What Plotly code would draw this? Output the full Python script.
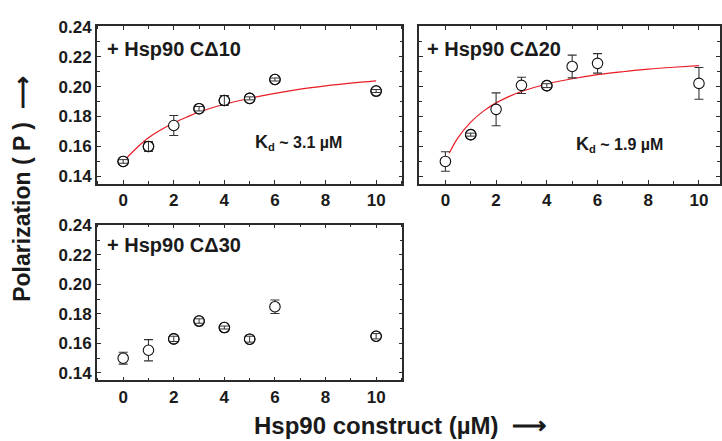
import plotly.graph_objects as go

W, H = 722, 441

# ---- data ----
conc = [0, 1, 2, 3, 4, 5, 6, 10]

p_cd10 = [0.150, 0.160, 0.174, 0.1852, 0.1907, 0.1921, 0.2047, 0.1970]
e_cd10 = [0.0012, 0.0032, 0.0067, 0.0015, 0.0032, 0.0010, 0.0010, 0.0010]

p_cd20 = [0.150, 0.1679, 0.1848, 0.2008, 0.2006, 0.2134, 0.2155, 0.2021]
e_cd20 = [0.0065, 0.0010, 0.0110, 0.0054, 0.0013, 0.0076, 0.0065, 0.0106]

p_cd30 = [0.150, 0.1554, 0.1631, 0.1752, 0.1708, 0.1629, 0.1849, 0.1649]
e_cd30 = [0.0040, 0.0072, 0.0018, 0.0015, 0.0010, 0.0020, 0.0046, 0.0018]

# fitted binding curves
fit10_x = [0.1, 0.5, 1, 1.5, 2, 2.5, 3, 4, 5, 6, 7, 8, 9, 10]
fit10_y = [0.1516, 0.1585, 0.1658, 0.1712, 0.1758, 0.1795, 0.1830, 0.1882,
           0.1922, 0.1955, 0.1983, 0.2005, 0.2023, 0.2038]
fit20_x = [0.15, 0.5, 1, 1.5, 2, 2.5, 3, 4, 5, 6, 7, 8, 9, 10]
fit20_y = [0.1555, 0.1659, 0.1763, 0.1836, 0.1891, 0.1933, 0.1967, 0.2017,
           0.2052, 0.2079, 0.2099, 0.2116, 0.2129, 0.2140]

labels = ["+ Hsp90 C\u039410", "+ Hsp90 C\u039420", "+ Hsp90 C\u039430"]
kd_labels = ["<span style='font-size:18px'>K</span><sub>d</sub> ~ 3.1 \u00b5M",
             "<span style='font-size:18px'>K</span><sub>d</sub> ~ 1.9 \u00b5M"]
x_ticks = [0, 2, 4, 6, 8, 10]
y_ticks = [0.14, 0.16, 0.18, 0.20, 0.22, 0.24]

FONT = "Liberation Sans, Arial, sans-serif"
AX = "#2b2b2b"
EB = "#333333"
RED = "rgb(232,28,36)"


def px(x):
    return x / W


def py(y):
    return 1 - y / H


fig = go.Figure()

panels = [
    ("x", "y", p_cd10, e_cd10),
    ("x2", "y2", p_cd20, e_cd20),
    ("x3", "y3", p_cd30, e_cd30),
]

fits = {0: (fit10_x, fit10_y), 1: (fit20_x, fit20_y)}

for i, (xa, ya, pv, ev) in enumerate(panels):
    if i in fits:
        fx, fy = fits[i]
        fig.add_trace(go.Scatter(x=fx, y=fy, mode="lines", line=dict(color=RED, width=1.2, shape="spline"),
                                 xaxis=xa, yaxis=ya, hoverinfo="skip", showlegend=False))
    fig.add_trace(go.Scatter(
        x=conc, y=pv, mode="markers", xaxis=xa, yaxis=ya, showlegend=False,
        marker=dict(symbol="circle", size=10.5, color="white", line=dict(color="#111", width=1.1)),
        error_y=dict(type="data", array=ev, visible=True, color=EB, thickness=1.1, width=4.5),
    ))
    # small error bars appear drawn over the marker (crosshair look)
    sx = [c for c, e in zip(conc, ev) if e < 0.0035]
    sy = [p for p, e in zip(pv, ev) if e < 0.0035]
    se = [e for e in ev if e < 0.0035]
    fig.add_trace(go.Scatter(
        x=sx, y=sy, mode="markers", xaxis=xa, yaxis=ya, showlegend=False, hoverinfo="skip",
        marker=dict(symbol="circle", size=10.5, color="rgba(0,0,0,0)", line=dict(color="#111", width=1.1)),
        error_y=dict(type="data", array=se, visible=True, color=EB, thickness=1.0, width=4.5),
    ))


def xax(dom, rng):
    return dict(domain=[px(dom[0]), px(dom[1])], range=rng, showline=True, linecolor=AX, linewidth=1.5,
                mirror="ticks", ticks="inside", ticklen=4, tickwidth=1.1, tickcolor=AX,
                tickvals=x_ticks, showgrid=False, zeroline=False,
                minor=dict(ticks="inside", ticklen=3, tickwidth=1, tickcolor=AX, dtick=1, tick0=0, showgrid=False),
                tickfont=dict(family=FONT, size=17, color="#1a1a1a", weight="bold"))


def yax(dom, show=True):
    return dict(domain=[py(dom[1]), py(dom[0])], range=[0.135, 0.2405], showline=True, linecolor=AX,
                linewidth=1.5, mirror="ticks", ticks="inside", ticklen=4, tickwidth=1.1, tickcolor=AX,
                tickvals=y_ticks, ticktext=[f"{v:.2f}" for v in y_ticks], showticklabels=show,
                showgrid=False, zeroline=False,
                minor=dict(ticks="inside", ticklen=3, tickwidth=1, tickcolor=AX, dtick=0.01, tick0=0.13, showgrid=False),
                tickfont=dict(family=FONT, size=17, color="#1a1a1a", weight="bold"))


fig.update_layout(
    width=W, height=H, margin=dict(l=0, r=0, t=0, b=0),
    paper_bgcolor="white", plot_bgcolor="white",
    xaxis=dict(**xax((97, 403), [-1.04, 11.04]), anchor="y"),
    yaxis=dict(**yax((18.3, 180)), anchor="x"),
    xaxis2=dict(**xax((420, 721), [-1.024, 10.83]), anchor="y2"),
    yaxis2=dict(**yax((18.3, 180), show=False), anchor="x2"),
    xaxis3=dict(**xax((97, 403), [-1.04, 11.04]), anchor="y3"),
    yaxis3=dict(**yax((221.7, 381)), anchor="x3"),
)

ann = []
for (x0, y0), t in zip([(105, 42), (426, 42), (105, 242)], labels):
    ann.append(dict(x=px(x0), y=py(y0), xref="paper", yref="paper", text=t, showarrow=False,
                    xanchor="left", yanchor="middle",
                    font=dict(family=FONT, size=20, color="#1a1a1a", weight="bold")))
for (x0, y0), t in zip([(253, 138), (575, 140)], kd_labels):
    ann.append(dict(x=px(x0), y=py(y0), xref="paper", yref="paper", text=t, showarrow=False,
                    xanchor="left", yanchor="middle",
                    font=dict(family=FONT, size=16, color="#1a1a1a", weight="bold")))
ann.append(dict(x=px(22), y=py(185), xref="paper", yref="paper", text="Polarization ( P )  \u27f6",
                showarrow=False, textangle=-90, xanchor="center", yanchor="middle",
                font=dict(family=FONT, size=23, color="#1a1a1a", weight="bold")))
ann.append(dict(x=px(401), y=py(427), xref="paper", yref="paper", text="Hsp90 construct (\u00b5M)  \u27f6",
                showarrow=False, xanchor="center", yanchor="middle",
                font=dict(family=FONT, size=24, color="#1a1a1a", weight="bold")))
fig.update_layout(annotations=ann)

fig.write_html("out.html", config={"displayModeBar": False},
               post_script="document.body.style.margin='0';document.body.style.overflow='hidden';")
